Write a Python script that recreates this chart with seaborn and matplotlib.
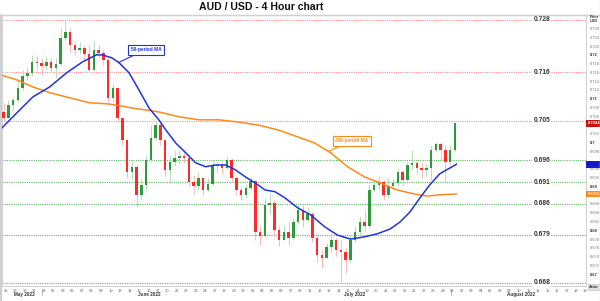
import numpy as np
import matplotlib
matplotlib.use("Agg")
import matplotlib.pyplot as plt
import seaborn as sns
from matplotlib import transforms
from matplotlib.lines import Line2D

# ---------------- data ----------------
title = "AUD / USD - 4 Hour chart"
first_open = 0.7070
close = [0.7056,0.7086,0.7097,0.7125,0.7152,0.7159,0.7184,0.7182,0.7175,0.7184,
         0.7170,0.7180,0.7239,0.7253,0.7223,0.7212,0.7216,0.7202,0.7166,0.7212,
         0.7205,0.7189,0.7102,0.7125,0.7056,0.7006,0.6933,0.6945,0.6881,0.6904,
         0.6961,0.7011,0.7040,0.7006,0.6938,0.6956,0.6965,0.6970,0.6965,0.6910,
         0.6901,0.6920,0.6892,0.6906,0.6947,0.6949,0.6942,0.6961,0.6920,0.6892,
         0.6881,0.6897,0.6913,0.6796,0.6787,0.6858,0.6862,0.6801,0.6778,0.6796,
         0.6783,0.6819,0.6847,0.6824,0.6837,0.6783,0.6744,0.6737,0.6762,0.6778,
         0.6755,0.6751,0.6732,0.6778,0.6796,0.6819,0.6810,0.6892,0.6904,0.6910,
         0.6881,0.6901,0.6908,0.6933,0.6915,0.6949,0.6954,0.6942,0.6938,0.6942,
         0.6983,0.6997,0.6983,0.6956,0.6983,0.7044]
high = [0.7091,0.7097,0.7104,0.7143,0.7166,0.7170,0.7200,0.7198,0.7193,0.7198,
        0.7193,0.7193,0.7262,0.7280,0.7262,0.7230,0.7230,0.7223,0.7223,0.7234,
        0.7223,0.7212,0.7193,0.7134,0.7125,0.7056,0.7006,0.6961,0.6949,0.6920,
        0.6972,0.7040,0.7050,0.7047,0.7006,0.6972,0.6983,0.6983,0.6983,0.6972,
        0.6926,0.6933,0.6920,0.6920,0.6961,0.6958,0.6956,0.6970,0.6965,0.6924,
        0.6901,0.6906,0.6922,0.6915,0.6810,0.6874,0.6888,0.6869,0.6810,0.6812,
        0.6819,0.6828,0.6860,0.6862,0.6853,0.6842,0.6789,0.6755,0.6771,0.6794,
        0.6783,0.6778,0.6760,0.6789,0.6810,0.6833,0.6847,0.6904,0.6915,0.6924,
        0.6915,0.6920,0.6920,0.6942,0.6938,0.6956,0.6983,0.6961,0.6954,0.6951,
        0.6995,0.7002,0.7002,0.6995,0.6995,0.7047]
low = [0.7047,0.7056,0.7075,0.7093,0.7120,0.7143,0.7152,0.7166,0.7155,0.7166,
       0.7161,0.7148,0.7175,0.7234,0.7207,0.7200,0.7202,0.7189,0.7159,0.7166,
       0.7193,0.7177,0.7093,0.7093,0.7047,0.6995,0.6920,0.6915,0.6853,0.6869,
       0.6892,0.6956,0.7006,0.6995,0.6924,0.6908,0.6947,0.6954,0.6954,0.6901,
       0.6883,0.6892,0.6881,0.6888,0.6901,0.6933,0.6929,0.6938,0.6910,0.6881,
       0.6869,0.6874,0.6892,0.6778,0.6767,0.6783,0.6837,0.6787,0.6764,0.6778,
       0.6767,0.6778,0.6815,0.6808,0.6819,0.6774,0.6728,0.6714,0.6737,0.6751,
       0.6742,0.6683,0.6703,0.6728,0.6774,0.6792,0.6796,0.6806,0.6888,0.6892,
       0.6869,0.6874,0.6892,0.6901,0.6901,0.6915,0.6938,0.6931,0.6920,0.6924,
       0.6915,0.6979,0.6961,0.6910,0.6949,0.6979]

ma50_day = [-0.63,1.15,2.82,4.60,6.37,8.05,9.51,10.14,11.18,11.91,12.96,14.00,15.05,16.09,
            16.82,17.87,18.91,19.96,21.00,22.05,23.09,24.14,25.18,26.23,27.27,28.32,29.36,
            30.72,32.08,33.54,34.90,36.26,37.72,39.08,40.44,41.48,42.53,43.57,44.62,45.66,
            46.71,47.44]
ma50 = [0.7029,0.7068,0.7104,0.7127,0.7159,0.7184,0.7200,0.7200,0.7193,0.7182,0.7159,0.7120,
        0.7079,0.7052,0.7029,0.6999,0.6977,0.6954,0.6945,0.6949,0.6949,0.6938,0.6922,0.6908,
        0.6892,0.6888,0.6874,0.6851,0.6835,0.6808,0.6789,0.6780,0.6785,0.6792,0.6803,0.6819,
        0.6842,0.6874,0.6904,0.6929,0.6942,0.6951]
ma200_day = [-0.63,1.15,2.82,4.60,6.37,8.78,10.87,13.27,16.09,18.18,20.27,22.36,24.45,26.54,
             28.63,30.72,32.50,34.17,35.95,37.72,39.39,41.17,42.95,44.30,45.66,47.44]
ma200 = [0.7155,0.7143,0.7127,0.7114,0.7104,0.7091,0.7088,0.7079,0.7070,0.7059,0.7052,0.7052,
         0.7047,0.7040,0.7029,0.7013,0.6999,0.6977,0.6945,0.6922,0.6908,0.6892,0.6883,0.6878,
         0.6881,0.6883]

resistance = [0.728, 0.716, 0.705]
support = [0.696, 0.691, 0.686, 0.679, 0.668]

day_labels = ["26","27","30","31",
              "01","02","03","06","07","08","09","10","13","14","15","16","17","20","21","22",
              "23","24","27","28","29","30",
              "01","04","05","06","07","08","11","12","13","14","15","18","19","20","21","22",
              "25","26","27","28","29",
              "01","02","03","04","05","08","09","10","11","12","15","16","17","18","19"]
month_labels = ["May 2022", "June 2022", "July 2022", "August 2022"]
month_pos = [1.9, 15.1, 36.7, 54.2]
month_starts = [4, 47]
last_price = 0.7044
ma50_last = 0.6951
ma200_last = 0.6883

# ---------------- style ----------------
sns.set_theme(style="white")
plt.rcParams["font.family"] = ["Liberation Sans", "DejaVu Sans"]

GREEN = "#2f9a3a"
RED = "#ff2b2b"
GREEN_W = "#b9dcb9"
RED_W = "#ffb8b8"
BLUE = "#2233dd"
ORANGE = "#ff8a1c"

W, H = 600, 301
fig = plt.figure(figsize=(6, 3.01), dpi=100)
fig.patch.set_facecolor("white")
ax = fig.add_axes([2 / W, 1 - 286 / H, 584 / W, 271 / H])

n = len(close)
t = -0.25 + 0.5 * np.arange(n)
close_a = np.array(close)
open_a = np.concatenate([[first_open], close_a[:-1]])
up = close_a >= open_a

# wicks
ax.vlines(t[up], np.array(low)[up], np.array(high)[up], colors=GREEN_W, lw=0.7, zorder=2)
ax.vlines(t[~up], np.array(low)[~up], np.array(high)[~up], colors=RED_W, lw=0.7, zorder=2)
# bodies
body_lo = np.minimum(open_a, close_a)
body_h = np.maximum(np.abs(close_a - open_a), 0.00008)
ax.bar(t[up], body_h[up], bottom=body_lo[up], width=0.26, color=GREEN, linewidth=0, zorder=3)
ax.bar(t[~up], body_h[~up], bottom=body_lo[~up], width=0.26, color=RED, linewidth=0, zorder=3)

# moving averages
sns.lineplot(x=ma200_day, y=ma200, ax=ax, color=ORANGE, lw=1.1, zorder=4)
sns.lineplot(x=ma50_day, y=ma50, ax=ax, color=BLUE, lw=1.1, zorder=5)

# levels
lab_x = 56.4
for v in resistance:
    ax.axhline(v, color="#ff8f8f", lw=0.8, ls=(0, (1, 1)), zorder=1)
for v in support:
    ax.axhline(v, color="#5fb85f", lw=0.8, ls=(0, (1, 1)), zorder=1)
for v in resistance + support:
    ax.text(lab_x, v, f"{v:.3f}", ha="center", va="center", fontsize=4.8,
            fontweight="bold", color="#333333", zorder=6,
            bbox=dict(boxstyle="square,pad=0.15", fc="white", ec="none"))

# MA annotations
ax.annotate("50-period MA", xy=(11.78, 0.7182), xytext=(14.72, 0.7212),
            fontsize=3.4, fontweight="bold", color=BLUE, ha="center", va="center",
            bbox=dict(boxstyle="square,pad=0.5", fc="white", ec=BLUE, lw=0.8),
            arrowprops=dict(arrowstyle="-", color=BLUE, lw=0.8, shrinkA=0, shrinkB=0),
            zorder=7)
ax.annotate("200-period MA", xy=(33.86, 0.6979), xytext=(36.38, 0.7004),
            fontsize=3.4, fontweight="bold", color=ORANGE, ha="center", va="center",
            bbox=dict(boxstyle="square,pad=0.5", fc="white", ec=ORANGE, lw=0.8),
            arrowprops=dict(arrowstyle="-", color=ORANGE, lw=0.8, shrinkA=0, shrinkB=0),
            zorder=7)

# axes limits
ax.set_xlim(-0.42, 61.05)
ax.set_ylim(0.6673, 0.7291)

# x ticks
ax.set_xticks(np.arange(len(day_labels)))
ax.set_xticklabels(day_labels, fontsize=3.0, color="#666666")
ax.tick_params(axis="x", length=0, pad=2.5)
ax.set_xlabel("")
xt = transforms.blended_transform_factory(ax.transData, ax.transAxes)
for m, p in zip(month_labels, month_pos):
    ax.text(p, -0.033, m, transform=xt, ha="center", va="center", fontsize=3.3,
            fontweight="bold", color="#333333")
for s in month_starts:
    ax.plot([s - 0.2, s - 0.2], [-0.012, -0.035], transform=xt,
            color="#999999", lw=0.5, clip_on=False)

# y ticks on right (labels hidden where the value markers sit)
ax.yaxis.tick_right()
yt = np.round(np.arange(0.670, 0.7261, 0.002), 3)
hidden = {0.704, 0.696, 0.688}
ax.set_yticks(yt)
labels = []
for v in yt:
    labels.append("" if round(v, 3) in hidden else f"{v:.3f}".rstrip("0"))
ax.set_yticklabels(labels, fontsize=2.9, color="#777777")
for lab, v in zip(ax.get_yticklabels(), yt):
    if abs(round(v * 100) - v * 100) < 1e-6:
        lab.set_fontweight("bold")
        lab.set_color("#333333")
ax.tick_params(axis="y", length=0, pad=2.5)
ax.set_ylabel("")

# right side price markers
bt = transforms.blended_transform_factory(ax.transAxes, ax.transData)
ax.text(1.0137, last_price, f"{last_price:.4f}", transform=bt, ha="center", va="center",
        fontsize=2.9, fontweight="bold", color="white", zorder=8,
        bbox=dict(boxstyle="square,pad=0.35", fc="#cc1111", ec="none"))
ax.text(1.0137, ma50_last, f"{ma50_last:.4f}", transform=bt, ha="center", va="center",
        fontsize=2.9, fontweight="bold", color="#1010c0", zorder=8,
        bbox=dict(boxstyle="square,pad=0.35", fc="#1a1acc", ec="none"))
ax.text(1.0137, ma200_last, f"{ma200_last:.4f}", transform=bt, ha="center", va="center",
        fontsize=2.9, fontweight="bold", color="#ffe0c0", zorder=8,
        bbox=dict(boxstyle="square,pad=0.35", fc=ORANGE, ec="none"))

fig.text(594 / W, 1 - 19 / H, "Price\nUSD", ha="center", va="center", fontsize=2.8,
         fontweight="bold", color="#333333", linespacing=1.1)
fig.text(594 / W, 1 - 287 / H, "Auto", ha="center", va="center", fontsize=3.0,
         fontweight="bold", color="#333333",
         bbox=dict(boxstyle="square,pad=0.3", fc="#dddddd", ec="#bbbbbb", lw=0.4))

# spines / frame
for sp in ax.spines.values():
    sp.set_color("#d4d4d4")
    sp.set_linewidth(0.8)
fig.add_artist(Line2D([0, 1], [1 - 14.5 / H] * 2, color="#d0d0d0", lw=1.0))
fig.add_artist(Line2D([0.5 / W, 0.5 / W], [0, 1 - 14.5 / H], color="#d0d0d0", lw=1.5))
fig.add_artist(Line2D([599.5 / W, 599.5 / W], [0, 1], color="#d8d8d8", lw=1.0))

fig.text(261 / W, 1 - 7.5 / H, title, ha="center", va="center", fontsize=7.6,
         fontweight="bold", color="#111111")

fig.savefig("out.png", dpi=100, facecolor="white")
